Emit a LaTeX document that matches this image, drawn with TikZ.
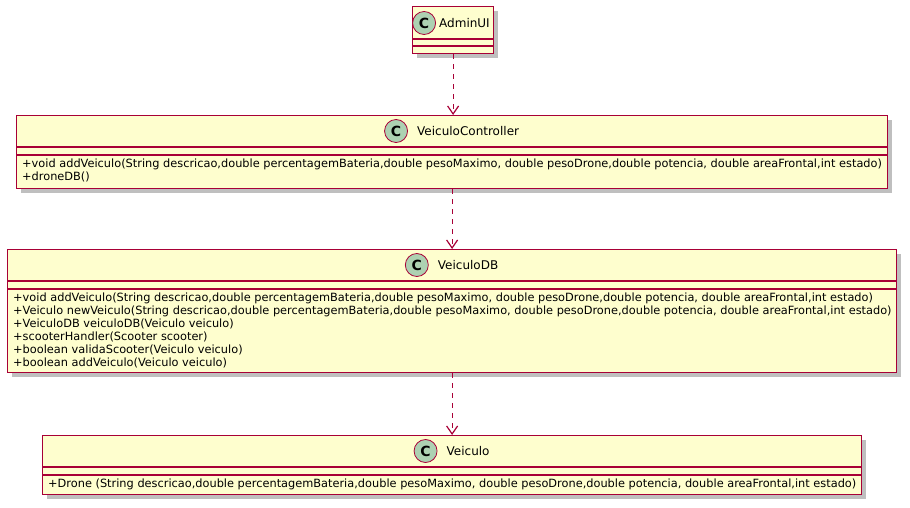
\documentclass[tikz,border=0pt]{standalone}
\usepackage{fontspec}
\setmainfont{DejaVu Sans}
\usetikzlibrary{arrows.meta,shadows,positioning,calc}
\definecolor{brd}{HTML}{A80036}
\definecolor{cfill}{HTML}{FEFECE}
\definecolor{cgreen}{HTML}{ADD1B2}
\tikzset{
  classbox/.style={draw=brd,fill=cfill,line width=1.2pt,anchor=north west,inner sep=0pt,
    drop shadow={shadow xshift=4pt,shadow yshift=-4pt,fill=black,opacity=0.25}},
  sep/.style={draw=brd,line width=1.2pt},
  cname/.style={font=\fontsize{12}{14}\selectfont,anchor=center,inner sep=0pt},
  ccirc/.style={circle,draw=brd,fill=cgreen,line width=0.8pt,minimum size=23pt,inner sep=0pt,
    font=\fontsize{14}{15}\selectfont\bfseries},
  meth/.style={font=\fontsize{11.35}{13}\selectfont,anchor=north west,align=left,inner sep=0pt},
  dep/.style={draw=brd,line width=1pt,dashed,dash pattern=on 5pt off 5pt,
    -{Straight Barb[length=8pt,width=11pt,line width=1.2pt]}}
}
\begin{document}
\begin{tikzpicture}[x=1pt,y=-1pt]
\useasboundingbox (0,0) rectangle (910,507);
% AdminUI
\node[classbox,minimum width=81pt,minimum height=47pt] (admin) at (412,6) {};
\draw[sep] (412,39) -- (493,39);
\draw[sep] (412,46) -- (493,46);
\node[cname,anchor=west] (adminn) at (439,23) {AdminUI};
\node[ccirc,left=3pt of adminn] (adminc) {C};
% VeiculoController
\node[classbox,minimum width=871pt,minimum height=73pt] (ctrl) at (16,115) {};
\draw[sep] (16,147) -- (887,147);
\draw[sep] (16,155) -- (887,155);
\node[cname] (ctrln) at ($(ctrl.north)+(16,16)$) {VeiculoController};
\node[ccirc,left=9pt of ctrln] (ctrlc) {C};
\node[meth] (ctrlm) at (22,159) {+void addVeiculo(String descricao,double percentagemBateria,double pesoMaximo, double pesoDrone,double potencia, double areaFrontal,int estado)\\+droneDB()};
% VeiculoDB
\node[classbox,minimum width=889pt,minimum height=123pt] (db) at (7,249) {};
\draw[sep] (7,281) -- (896,281);
\draw[sep] (7,289) -- (896,289);
\node[cname] (dbn) at ($(db.north)+(16,16)$) {VeiculoDB};
\node[ccirc,left=9pt of dbn] (dbc) {C};
\node[meth] (dbm) at (13,293) {+void addVeiculo(String descricao,double percentagemBateria,double pesoMaximo, double pesoDrone,double potencia, double areaFrontal,int estado)\\
+Veiculo newVeiculo(String descricao,double percentagemBateria,double pesoMaximo, double pesoDrone,double potencia, double areaFrontal,int estado)\\
+VeiculoDB veiculoDB(Veiculo veiculo)\\
+scooterHandler(Scooter scooter)\\
+boolean validaScooter(Veiculo veiculo)\\
+boolean addVeiculo(Veiculo veiculo)};
% Veiculo
\node[classbox,minimum width=819pt,minimum height=59pt] (veic) at (42,435) {};
\draw[sep] (42,467) -- (861,467);
\draw[sep] (42,475) -- (861,475);
\node[cname] (veicn) at ($(veic.north)+(16,16)$) {Veiculo};
\node[ccirc,left=9pt of veicn] (veicc) {C};
\node[meth] (veicm) at (48,479) {+Drone (String descricao,double percentagemBateria,double pesoMaximo, double pesoDrone,double potencia, double areaFrontal,int estado)};
% dependencies
\draw[dep] (admin.south) -- (admin.south |- ctrl.north);
\draw[dep] (ctrl.south) -- (ctrl.south |- db.north);
\draw[dep] (db.south) -- (db.south |- veic.north);
\end{tikzpicture}
\end{document}
